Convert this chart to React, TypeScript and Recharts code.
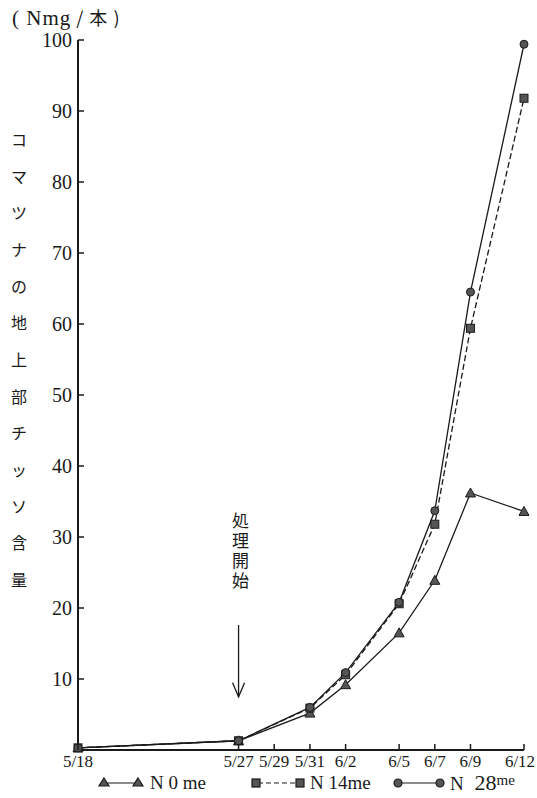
import React from "react";
import { LineChart, Line, XAxis, YAxis, ReferenceLine } from "recharts";

// days counted from 5/18
const days = [0, 9, 13, 15, 18, 20, 22, 25];
const n0 = [0.3, 1.3, 5.2, 9.2, 16.5, 23.9, 36.2, 33.6];
const n14 = [0.3, 1.3, 5.9, 10.6, 20.6, 31.8, 59.4, 91.8];
const n28 = [0.3, 1.3, 6.0, 10.9, 20.8, 33.7, 64.5, 99.4];

const xTicks = [0, 9, 11, 13, 15, 18, 20, 22, 25];
const xLabels = ["5/18", "5/27", "5/29", "5/31", "6/2", "6/5", "6/7", "6/9", "6/12"];
const yTicks = [10, 20, 30, 40, 50, 60, 70, 80, 90, 100];

const yTitle = "コマツナの地上部チッソ含量".split("");

const data = days.map((d, i) => ({ day: d, n0: n0[i], n14: n14[i], n28: n28[i] }));

const INK = "#1a1a1a";
const SERIF = "'Liberation Serif', 'DejaVu Serif', serif";
const JP = "'Noto Sans CJK JP', sans-serif";

function XTick({ x, y, payload }: any) {
  const i = xTicks.indexOf(payload.value);
  const last = i === xTicks.length - 1;
  return (
    <g>
      <line x1={x} y1={y} x2={x} y2={y - 6} stroke={INK} strokeWidth={1.5} />
      <text x={last ? x - 4 : x} y={y + 17} textAnchor="middle" fontSize={17} fontFamily={SERIF} fill={INK}>
        {xLabels[i]}
      </text>
    </g>
  );
}

function YTick({ x, y, payload }: any) {
  return (
    <g>
      <line x1={x} y1={y} x2={x + 6} y2={y} stroke={INK} strokeWidth={1.5} />
      <text x={x - 6} y={y + 7} textAnchor="end" fontSize={20} fontFamily={SERIF} fill={INK}>
        {payload.value}
      </text>
    </g>
  );
}

const tri = (p: any) => (
  <path
    key={p.key}
    d={`M${p.cx},${p.cy - 5} L${p.cx + 5},${p.cy + 4} L${p.cx - 5},${p.cy + 4} Z`}
    fill="#555"
    stroke={INK}
  />
);
const sq = (p: any) => (
  <rect key={p.key} x={p.cx - 4} y={p.cy - 4} width={8} height={8} fill="#555" stroke={INK} />
);
const circ = (p: any) => <circle key={p.key} cx={p.cx} cy={p.cy} r={4} fill="#555" stroke={INK} />;

function Arrow({ x1, y1, x2, y2 }: any) {
  return (
    <g>
      <line x1={x1} y1={y1} x2={x2} y2={y2} stroke={INK} strokeWidth={1.3} />
      <path d={`M${x2 - 6},${y2 - 14} L${x2},${y2} L${x2 + 6},${y2 - 14}`} fill="none" stroke={INK} strokeWidth={1.3} />
    </g>
  );
}

export default function App() {
  return (
    <div style={{ position: "absolute", left: 0, top: 0, width: 537, height: 798, background: "#fff" }}>
      <LineChart width={537} height={798} data={data} margin={{ top: 40, right: 13, left: 0, bottom: 0 }}>
        <XAxis
          dataKey="day"
          type="number"
          domain={[0, 25]}
          ticks={xTicks}
          interval={0}
          height={48}
          tickSize={0}
          tickMargin={0}
          tickLine={false}
          axisLine={{ stroke: INK, strokeWidth: 2 }}
          tick={<XTick />}
        />
        <YAxis
          type="number"
          domain={[0, 100]}
          ticks={yTicks}
          interval={0}
          width={78}
          tickSize={0}
          tickMargin={0}
          tickLine={false}
          axisLine={{ stroke: INK, strokeWidth: 2 }}
          tick={<YTick />}
        />
        <ReferenceLine
          segment={[
            { x: 9, y: 17.6 },
            { x: 9, y: 7.5 },
          ]}
          shape={<Arrow />}
        />
        <Line dataKey="n0" stroke={INK} strokeWidth={1.3} dot={tri} isAnimationActive={false} />
        <Line dataKey="n14" stroke={INK} strokeWidth={1.3} strokeDasharray="6 3" dot={sq} isAnimationActive={false} />
        <Line dataKey="n28" stroke={INK} strokeWidth={1.3} dot={circ} isAnimationActive={false} />
      </LineChart>

      <div style={{ position: "absolute", left: 12, top: 4, fontFamily: SERIF, fontSize: 21, color: INK, letterSpacing: 1 }}>
        ( Nmg<span style={{ fontFamily: JP, fontSize: 18 }}> / 本 )</span>
      </div>

      <div
        style={{
          position: "absolute",
          left: 8,
          top: 128,
          height: 462,
          width: 22,
          display: "flex",
          flexDirection: "column",
          justifyContent: "space-between",
          alignItems: "center",
          fontFamily: JP,
          fontSize: 16,
          color: INK,
        }}
      >
        {yTitle.map((c, i) => (
          <div key={i} style={{ lineHeight: "22px" }}>
            {c}
          </div>
        ))}
      </div>

      <div
        style={{
          position: "absolute",
          left: 230,
          top: 512,
          writingMode: "vertical-rl",
          fontFamily: JP,
          fontSize: 17,
          letterSpacing: 3,
          lineHeight: "20px",
          color: INK,
        }}
      >
        処理開始
      </div>

      <svg style={{ position: "absolute", left: 0, top: 771 }} width={537} height={27}>
        <g stroke={INK} strokeWidth={1.2} fill="#555">
          <line x1={104} y1={12} x2={138} y2={12} />
          <path d="M104,7 L109,15 L99,15 Z" />
          <path d="M138,7 L143,15 L133,15 Z" />
          <line x1={258} y1={12} x2={298} y2={12} strokeDasharray="5 3" />
          <rect x={252} y={8} width={8} height={8} />
          <rect x={296} y={8} width={8} height={8} />
          <line x1={398} y1={12} x2={440} y2={12} />
          <circle cx={398} cy={12} r={4} />
          <circle cx={440} cy={12} r={4} />
        </g>
        <g fontFamily={SERIF} fill={INK}>
          <text x={150} y={18} fontSize={19}>N 0 me</text>
          <text x={310} y={18} fontSize={19}>N  14me</text>
          <text x={450} y={19} fontSize={19}>
            N <tspan fontSize={22} dx={6}>28</tspan>
            <tspan fontSize={15} dy={-5}>me</tspan>
          </text>
        </g>
      </svg>
    </div>
  );
}
